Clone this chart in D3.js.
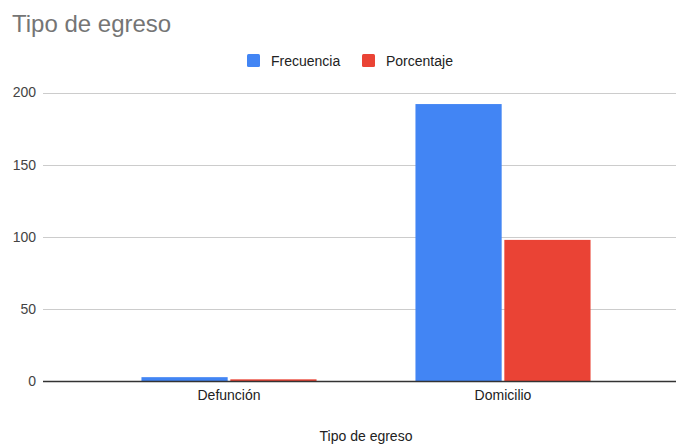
<!DOCTYPE html>
<meta charset="utf-8">
<style>
body { margin: 0; font-family: "Liberation Sans", Arial, sans-serif; background: #fff; }
.grid line { stroke: #cccccc; stroke-width: 1; }
.y.axis text { font-size: 14px; fill: #444; }
.x.axis text { font-size: 14px; fill: #222; }
</style>
<body>
<div id="chart"></div>
<script src="https://d3js.org/d3.v7.min.js"></script>
<script>
var categories = ["Defunción", "Domicilio"];
var series = ["Frecuencia", "Porcentaje"];
var frecuencia = [3, 192];
var porcentaje = [1.5, 98];
var yTicks = [0, 50, 100, 150, 200];
var colors = ["#4285f4", "#ea4335"];

var width = 676, height = 444;

var rows = categories.map((c, i) => ({cat: c, Frecuencia: frecuencia[i], Porcentaje: porcentaje[i]}));

var svg = d3.select("#chart").append("svg")
  .attr("width", width)
  .attr("height", height);

var x0 = d3.scaleBand().domain(categories).range([92, 640])
  .paddingInner(0.361).paddingOuter(0.1805);
var x1 = d3.scaleBand().domain(series).range([0, x0.bandwidth()]).paddingInner(0.03);
var y = d3.scaleLinear().domain([0, 200]).range([381.5, 92.5]);

// title
svg.append("text")
  .attr("x", 12).attr("y", 32)
  .style("font-size", "24px").style("fill", "#757575")
  .text("Tipo de egreso");

// legend
var legendX = [247, 362];
series.forEach((s, i) => {
  svg.append("rect").attr("x", legendX[i]).attr("y", 54).attr("width", 13).attr("height", 13)
    .attr("rx", 1.5).style("fill", colors[i]);
  svg.append("text").attr("x", legendX[i] + 24).attr("y", 66)
    .style("font-size", "14px").style("fill", "#222").text(s);
});

// gridlines
svg.append("g").attr("class", "grid")
  .selectAll("line").data(yTicks.slice(1)).enter().append("line")
  .attr("x1", 43).attr("x2", 676)
  .attr("y1", d => Math.round(y(d)) + 0.5).attr("y2", d => Math.round(y(d)) + 0.5);

// bars
var g = svg.selectAll(".cat").data(rows).enter().append("g")
  .attr("class", "cat")
  .attr("transform", d => `translate(${x0(d.cat)},0)`);

g.selectAll("rect").data(d => series.map((s, i) => ({s: s, v: d[s], c: colors[i]})))
  .enter().append("rect")
  .attr("x", d => x1(d.s))
  .attr("y", d => y(d.v))
  .attr("width", x1.bandwidth())
  .attr("height", d => y(0) - y(d.v))
  .style("fill", d => d.c);

// y axis labels
var yAxis = d3.axisLeft(y).tickValues(yTicks).tickSize(0).tickPadding(0);
svg.append("g").attr("class", "y axis")
  .attr("transform", "translate(36,0)")
  .call(yAxis)
  .call(g => g.select(".domain").remove());

// baseline
svg.append("line")
  .attr("x1", 43).attr("x2", 676)
  .attr("y1", y(0)).attr("y2", y(0))
  .style("stroke", "#333").style("stroke-width", 1.5);

// x axis labels
var xAxis = d3.axisBottom(x0).tickSize(0).tickPadding(9);
svg.append("g").attr("class", "x axis")
  .attr("transform", `translate(0,${y(0)})`)
  .call(xAxis)
  .call(g => g.select(".domain").remove());

// axis title
svg.append("text")
  .attr("x", 366).attr("y", 441)
  .attr("text-anchor", "middle")
  .style("font-size", "14px").style("fill", "#222")
  .text("Tipo de egreso");
</script>
</body>
